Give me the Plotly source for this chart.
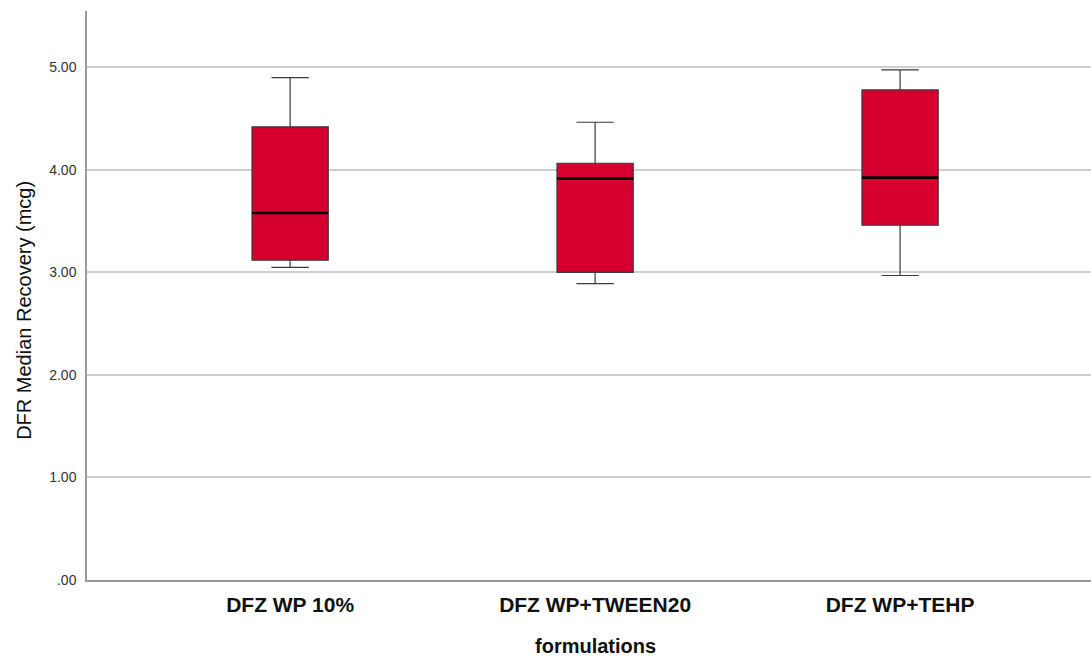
import plotly.graph_objects as go

categories = ["DFZ WP 10%", "DFZ WP+TWEEN20", "DFZ WP+TEHP"]
lower_whisker = [3.05, 2.89, 2.97]
q1 = [3.12, 3.00, 3.46]
median = [3.58, 3.915, 3.925]
q3 = [4.42, 4.065, 4.78]
upper_whisker = [4.90, 4.465, 4.975]
ytick_vals = [0, 1, 2, 3, 4, 5]
ytick_text = [".00", "1.00", "2.00", "3.00", "4.00", "5.00"]
x_title = "formulations"
y_title = "DFR Median Recovery (mcg)"

xpos = list(range(len(categories)))
box_w = 0.25
FONT = "Liberation Sans, Arial, sans-serif"

fig = go.Figure()
fig.add_trace(go.Box(
    x=xpos, q1=q1, median=median, q3=q3,
    lowerfence=lower_whisker, upperfence=upper_whisker,
    width=box_w, whiskerwidth=0.49,
    fillcolor="#D6002F",
    line=dict(color="#3a3a3a", width=1.2),
    boxpoints=False, hoverinfo="skip", showlegend=False,
))

# thicker median lines
mx, my = [], []
for i, m in zip(xpos, median):
    mx += [i - box_w / 2, i + box_w / 2, None]
    my += [m, m, None]
fig.add_trace(go.Scatter(x=mx, y=my, mode="lines",
                         line=dict(color="#000000", width=2.6),
                         hoverinfo="skip", showlegend=False))

fig.update_layout(
    width=1091, height=656,
    margin=dict(l=87, r=0, t=11, b=76),
    paper_bgcolor="white", plot_bgcolor="white",
    font=dict(family=FONT, color="#222"),
    xaxis=dict(
        range=[-0.666, 2.626], automargin=False,
        tickmode="array", tickvals=xpos, ticktext=categories,
        tickfont=dict(size=21, color="#111", family=FONT, weight="bold"),
        showgrid=False, zeroline=False,
        showline=True, linecolor="#9a9a9a", linewidth=2,
        ticks="", ticklabelstandoff=5,
    ),
    yaxis=dict(
        range=[0, 5.55], automargin=False,
        tickmode="array", tickvals=ytick_vals, ticktext=ytick_text,
        tickfont=dict(size=14, color="#333"),
        showgrid=True, gridcolor="#cfcfcf", gridwidth=1.5,
        zeroline=False,
        showline=True, linecolor="#9a9a9a", linewidth=1.5,
        ticks="", ticklabelstandoff=6,
    ),
    annotations=[
        dict(text=y_title, xref="paper", yref="paper", x=0, y=0.473,
             xshift=-63, xanchor="center", yanchor="middle", textangle=-90,
             showarrow=False, font=dict(size=20, color="#111", family=FONT)),
        dict(text=x_title, xref="paper", yref="paper", x=0.506, y=0,
             yshift=-66, xanchor="center", yanchor="middle",
             showarrow=False, font=dict(size=20, color="#111", family=FONT, weight="bold")),
    ],
)

fig.write_html("out.html",
               config={"displayModeBar": False},
               post_script="document.body.style.margin='0';document.body.style.overflow='hidden';")
